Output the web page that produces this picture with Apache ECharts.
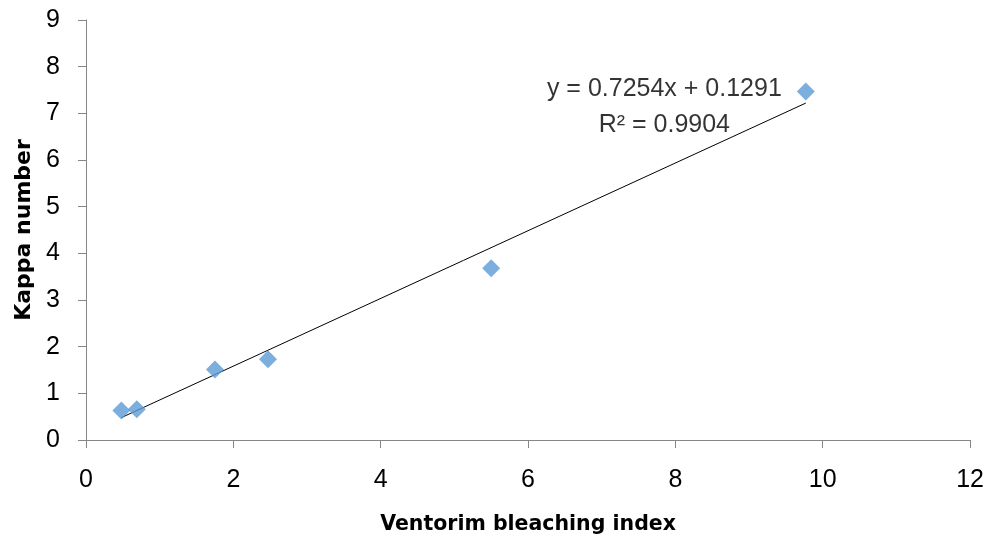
<!DOCTYPE html>
<html>
<head>
<meta charset="utf-8">
<script src="https://cdn.jsdelivr.net/npm/echarts@6/dist/echarts.min.js"></script>
<style>html,body{margin:0;padding:0;background:#fff}#c{width:987px;height:540px}</style>
</head>
<body>
<div id="c"></div>
<script>
// Data
const bleachingIndex = [0.48, 0.69, 1.75, 2.47, 5.50, 9.77];
const kappaNumber    = [0.63, 0.66, 1.51, 1.73, 3.68, 7.47];
// Linear trendline endpoints (as drawn in the reference)
const trendX = [0.48, 9.77];
const trendY = [0.48, 7.22];
const equationText = 'y = 0.7254x + 0.1291';
const r2Text = 'R\u00B2 = 0.9904';
const labelAnchor = [7.85, 7.13];
const xTicks = [0, 2, 4, 6, 8, 10, 12];
const yTicks = [0, 1, 2, 3, 4, 5, 6, 7, 8, 9];

const font = '"Liberation Sans", Arial, sans-serif';
const titleFont = '"DejaVu Sans", sans-serif';
const axisColor = '#868686';

const chart = echarts.init(document.getElementById('c'), null, {renderer: 'canvas'});
chart.setOption({
  animation: false,
  backgroundColor: '#ffffff',
  textStyle: {fontFamily: font},
  grid: {left: 86, right: 15, top: 20, bottom: 98, containLabel: false},
  xAxis: {
    type: 'value', min: xTicks[0], max: xTicks[xTicks.length - 1], interval: 2,
    name: 'Ventorim bleaching index', nameLocation: 'middle', nameGap: 74,
    nameTextStyle: {fontSize: 20.5, fontWeight: 'bold', color: '#000', fontFamily: titleFont},
    axisLine: {show: true, lineStyle: {color: axisColor, width: 1}},
    axisTick: {show: true, inside: false, length: 8, lineStyle: {color: axisColor}},
    axisLabel: {fontSize: 25, color: '#000', margin: 28, fontFamily: font},
    splitLine: {show: false}
  },
  yAxis: {
    type: 'value', min: yTicks[0], max: yTicks[yTicks.length - 1], interval: 1,
    name: 'Kappa number', nameLocation: 'middle', nameGap: 50,
    nameTextStyle: {fontSize: 22, fontWeight: 'bold', color: '#000', fontFamily: titleFont},
    axisLine: {show: true, lineStyle: {color: axisColor, width: 1}},
    axisTick: {show: true, inside: false, length: 8, lineStyle: {color: axisColor}},
    axisLabel: {fontSize: 25, color: '#000', margin: 26, fontFamily: font},
    splitLine: {show: false}
  },
  series: [
    {
      type: 'line',
      data: trendX.map((x, i) => [x, trendY[i]]),
      symbol: 'none',
      lineStyle: {color: '#000', width: 1},
      z: 2
    },
    {
      type: 'scatter',
      data: bleachingIndex.map((x, i) => [x, kappaNumber[i]]),
      symbol: 'diamond',
      symbolSize: [18, 18],
      itemStyle: {color: '#5B9BD5'},
      z: 3
    },
    {
      type: 'scatter',
      data: [labelAnchor],
      symbolSize: 0,
      silent: true,
      label: {
        show: true, position: 'inside',
        formatter: equationText + '\n' + r2Text,
        fontSize: 25, lineHeight: 36, color: '#000', align: 'center',
        fontFamily: font
      },
      z: 4
    }
  ]
});
</script>
</body>
</html>
